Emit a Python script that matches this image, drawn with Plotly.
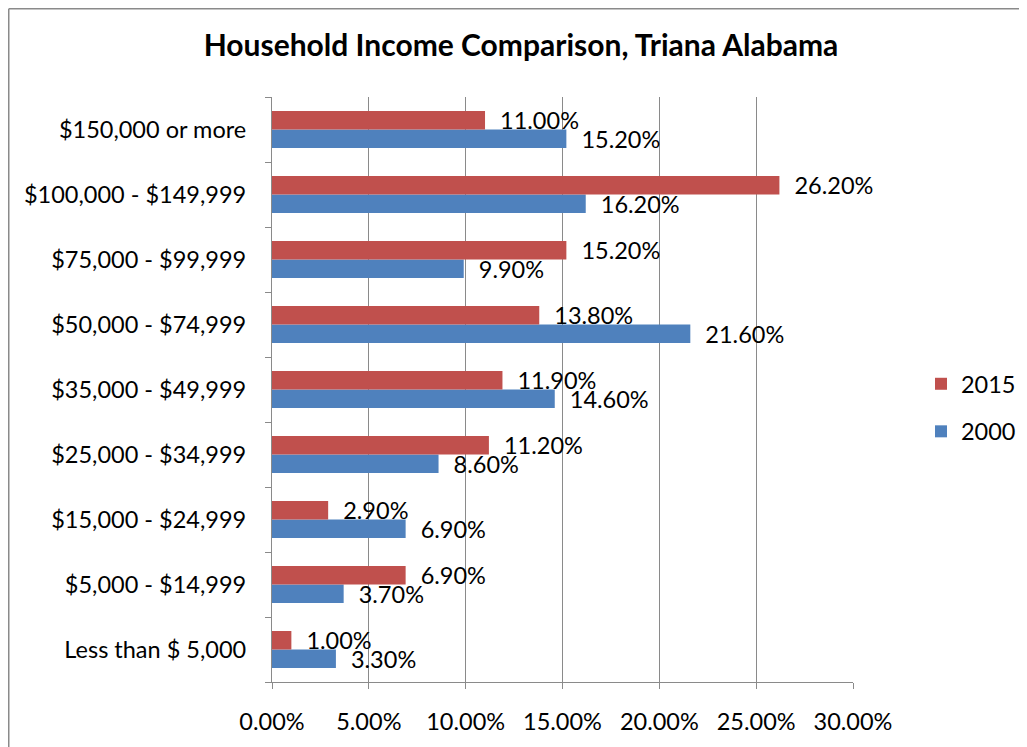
import plotly.graph_objects as go

categories = ["Less than $ 5,000", "$5,000 - $14,999", "$15,000 - $24,999", "$25,000 - $34,999",
              "$35,000 - $49,999", "$50,000 - $74,999", "$75,000 - $99,999",
              "$100,000 - $149,999", "$150,000 or more"]
values_2015 = [1.0, 6.9, 2.9, 11.2, 11.9, 13.8, 15.2, 26.2, 11.0]
values_2000 = [3.3, 3.7, 6.9, 8.6, 14.6, 21.6, 9.9, 16.2, 15.2]
x_ticks = [0, 5, 10, 15, 20, 25, 30]
x_tick_text = [f"{v:.2f}%" for v in x_ticks]

FONT = "Lato"
FS = 23.5
GRID = "#8a8a8a"

# page body has an 8px margin; figure coords = screen coords - 8
L, R, T, B = 264, 182, 89, 73
PW = 1027 - L - R
PH = 747 - T - B

fig = go.Figure()
fig.add_trace(go.Bar(
    y=categories, x=values_2000, orientation="h", name="2000",
    marker=dict(color="#4F81BD", line=dict(width=0)),
    texttemplate="\u00a0\u00a0%{x:.2f}%", textposition="outside", constraintext="none",
    cliponaxis=False, textfont=dict(family=FONT, size=FS, color="black"),
    legendgroup="a", legendrank=2))
fig.add_trace(go.Bar(
    y=categories, x=values_2015, orientation="h", name="2015",
    marker=dict(color="#C0504D", line=dict(width=0)),
    texttemplate="\u00a0\u00a0%{x:.2f}%", textposition="outside", constraintext="none",
    cliponaxis=False, textfont=dict(family=FONT, size=FS, color="black"),
    legendgroup="b", legendrank=1))

fig.update_layout(
    width=1027, height=747,
    margin=dict(l=L, r=R, t=T, b=B, autoexpand=False),
    paper_bgcolor="white", plot_bgcolor="white",
    barmode="group", bargap=0.43, bargroupgap=0,
    font=dict(family=FONT, size=FS, color="black"),
    title=dict(text="<b>Household Income Comparison, Triana Alabama</b>",
               x=(513 - L) / PW, xref="paper", xanchor="center", y=0.950, yanchor="middle",
               font=dict(family=FONT, size=30, color="black")),
    legend=dict(x=1.117, xanchor="left", y=(PH - (408 - 8 - T)) / PH, yanchor="middle",
                traceorder="grouped", tracegroupgap=14,
                font=dict(family=FONT, size=FS, color="black"),
                bgcolor="rgba(0,0,0,0)"),
    xaxis=dict(range=[0, 30], tickvals=x_ticks, ticktext=x_tick_text,
               showgrid=True, gridcolor=GRID, gridwidth=1.2,
               showline=True, linecolor=GRID, linewidth=1.2,
               ticks="outside", ticklen=6, tickcolor=GRID, tickwidth=1.2,
               zeroline=False, ticklabelstandoff=13,
               tickfont=dict(family=FONT, size=FS, color="black")),
    yaxis=dict(type="category", categoryorder="array", categoryarray=categories,
               showgrid=False, showline=True, linecolor=GRID, linewidth=1.2,
               ticks="outside", ticklen=6, tickcolor=GRID, tickwidth=1.2,
               tickson="boundaries", ticklabelstandoff=20,
               tickfont=dict(family=FONT, size=FS, color="black")),
    shapes=[
        dict(type="line", xref="paper", yref="paper",
             x0=(0.75 - L) / PW, x1=(0.75 - L) / PW,
             y0=(PH + T - 800) / PH, y1=(PH + T - 0.75) / PH,
             line=dict(color="#8a8a8a", width=1.5), layer="below"),
        dict(type="line", xref="paper", yref="paper",
             x0=(0.75 - L) / PW, x1=(1100 - L) / PW,
             y0=(PH + T - 0.75) / PH, y1=(PH + T - 0.75) / PH,
             line=dict(color="#8a8a8a", width=1.5), layer="below"),
    ],
)

fig.write_html("out.html")
